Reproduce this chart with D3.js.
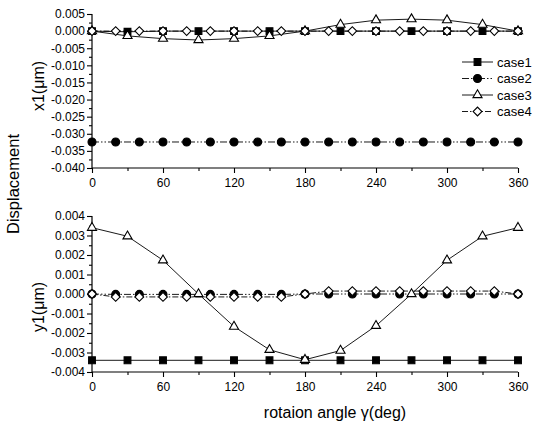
<!DOCTYPE html>
<html><head><meta charset="utf-8">
<script src="https://cdn.jsdelivr.net/npm/d3@7"></script>
<style>body{margin:0;background:#fff}svg{display:block}text{font-family:"Liberation Sans",Arial,sans-serif;fill:#000}</style>
</head><body>
<script>
// ---- data ----
const angles30 = [0,30,60,90,120,150,180,210,240,270,300,330,360];
const angles20 = [0,20,40,60,80,100,120,140,160,180,200,220,240,260,280,300,320,340,360];

// top panel x1 (µm)
const x1_case1 = [0,-0.0002,0,0,0,0,0,0,0,0,0,0,0];            // angles30
const x1_case2 = [-0.0324,-0.0324,-0.0324,-0.0324,-0.0324,-0.0324,-0.0324,-0.0324,-0.0324,-0.0324,-0.0324,-0.0324,-0.0324,-0.0324,-0.0324,-0.0324,-0.0324,-0.0324,-0.0324]; // angles20
const x1_case3 = [0,-0.0014,-0.0022,-0.0026,-0.0022,-0.0014,0,0.0019,0.0032,0.0035,0.0032,0.0019,0]; // angles30
const x1_case4 = [0,0,0,0,0,0,0,0,0,0,0,0,0,0,0,0,0,0,0];       // angles20

// bottom panel y1 (µm)
const y1_case1 = [-0.0034,-0.0034,-0.0034,-0.0034,-0.0034,-0.0034,-0.0034,-0.0034,-0.0034,-0.0034,-0.0034,-0.0034,-0.0034]; // angles30
const y1_case2 = [0,-0.00002,-0.00002,-0.00002,-0.00002,-0.00002,-0.00002,-0.00002,-0.00002,0,0,0,0,0,0,0,0,0,0]; // angles20
const y1_case3 = [0.0034,0.00296,0.00173,0,-0.00167,-0.00286,-0.00337,-0.0029,-0.00163,0,0.00173,0.00296,0.0034]; // angles30
const y1_case4 = [0,-0.00015,-0.00015,-0.00015,-0.00015,-0.00015,-0.00015,-0.00015,-0.00015,0,0.00015,0.00015,0.00015,0.00015,0.00015,0.00015,0.00015,0.00015,0]; // angles20

const xTicks = [0,60,120,180,240,300,360];
const xMinor = [30,90,150,210,270,330];
const topTicks = [0.005,0,-0.005,-0.010,-0.015,-0.020,-0.025,-0.030,-0.035,-0.040];
const topTickLabels = ["0.005","0.000","-0.005","-0.010","-0.015","-0.020","-0.025","-0.030","-0.035","-0.040"];
const botTicks = [0.004,0.003,0.002,0.001,0,-0.001,-0.002,-0.003,-0.004];
const botTickLabels = ["0.004","0.003","0.002","0.001","0.000","-0.001","-0.002","-0.003","-0.004"];
const seriesNames = ["case1","case2","case3","case4"];

// ---- drawing ----
const W=533,H=432;
const svg=d3.select("body").append("svg").attr("width",W).attr("height",H);
svg.append("rect").attr("width",W).attr("height",H).attr("fill","#fff");

const x=d3.scaleLinear().domain([0,360]).range([92,518]);
const yTop=d3.scaleLinear().domain([-0.040,0.005]).range([168,14]);
const yBot=d3.scaleLinear().domain([-0.004,0.004]).range([372,216]);

const styles=[
  {dash:null, sym:"square", fill:"#000"},
  {dash:"7,2,1.5,2,1.5,2", sym:"circle", fill:"#000"},
  {dash:null, sym:"triangle", fill:"#fff"},
  {dash:"6,2,1.5,2", sym:"diamond", fill:"#fff"}
];
function symPath(s){
  if(s==="square") return d3.symbol(d3.symbolSquare,46)();
  if(s==="circle") return d3.symbol(d3.symbolCircle,50)();
  if(s==="triangle") return d3.symbol(d3.symbolTriangle,36)();
  return d3.symbol(d3.symbolSquare,38)();
}
function marker(g,s,cx,cy){
  const p=g.append("path").attr("d",symPath(s.sym)).attr("fill",s.fill)
   .attr("stroke","#000").attr("stroke-width",1.1);
  p.attr("transform",`translate(${cx},${cy})`+(s.sym==="diamond"?" rotate(45)":""));
}

function panel(y, ticks, labels, series, yLabel, yLabelY){
  const g=svg.append("g");
  const [y0,y1]=y.range();
  g.append("line").attr("x1",x(0)).attr("x2",x(0)).attr("y1",y0).attr("y2",y1).attr("stroke","#000").attr("stroke-width",1.2);
  g.append("line").attr("x1",x(0)).attr("x2",x(360)).attr("y1",y0).attr("y2",y0).attr("stroke","#000").attr("stroke-width",1.2);
  const ay=d3.axisLeft(y).tickValues(ticks).tickSize(5).tickSizeOuter(0).tickFormat((d,i)=>labels[i]);
  const gy=g.append("g").attr("transform",`translate(${x(0)},0)`).call(ay);
  gy.select(".domain").remove();
  gy.selectAll("text").attr("font-size",12).attr("x",-7).style("font-family",'"Liberation Sans",Arial,sans-serif');
  const minors=[];
  for(let i=0;i<ticks.length-1;i++) minors.push((ticks[i]+ticks[i+1])/2);
  const aym=d3.axisLeft(y).tickValues(minors).tickSize(3).tickFormat("");
  const gym=g.append("g").attr("transform",`translate(${x(0)},0)`).call(aym);
  gym.select(".domain").remove();
  const ax=d3.axisBottom(x).tickValues(xTicks).tickSize(5).tickFormat(d=>String(d));
  const gx=g.append("g").attr("transform",`translate(0,${y0})`).call(ax);
  gx.select(".domain").remove();
  gx.selectAll("text").attr("font-size",12).attr("y",10).style("font-family",'"Liberation Sans",Arial,sans-serif');
  const axm=d3.axisBottom(x).tickValues(xMinor).tickSize(3).tickFormat("");
  const gxm=g.append("g").attr("transform",`translate(0,${y0})`).call(axm);
  gxm.select(".domain").remove();
  g.selectAll(".tick line").attr("stroke","#000").attr("stroke-width",1.1);
  const line=d3.line().x(d=>x(d[0])).y(d=>y(d[1]));
  series.forEach((sr,i)=>{
    const pts=sr.a.map((a,j)=>[a,sr.v[j]]);
    g.append("path").attr("d",line(pts)).attr("fill","none").attr("stroke","#000")
     .attr("stroke-width",0.9).attr("stroke-dasharray",styles[i].dash);
  });
  series.forEach((sr,i)=>{
    sr.a.forEach((a,j)=>marker(g,styles[i],x(a),y(sr.v[j])));
  });
  svg.append("text").attr("transform",`translate(44,${yLabelY}) rotate(-90)`)
    .attr("text-anchor","middle").attr("font-size",16).text(yLabel);
}

panel(yTop, topTicks, topTickLabels,
  [{a:angles30,v:x1_case1},{a:angles20,v:x1_case2},{a:angles30,v:x1_case3},{a:angles20,v:x1_case4}],
  "x1(\u03bcm)", 86);
panel(yBot, botTicks, botTickLabels,
  [{a:angles30,v:y1_case1},{a:angles20,v:y1_case2},{a:angles30,v:y1_case3},{a:angles20,v:y1_case4}],
  "y1(\u03bcm)", 307);

// legend
const lg=svg.append("g");
seriesNames.forEach((n,i)=>{
  const ly=62+i*16.5;
  lg.append("line").attr("x1",462).attr("x2",493).attr("y1",ly).attr("y2",ly)
    .attr("stroke","#000").attr("stroke-width",0.9).attr("stroke-dasharray",styles[i].dash);
  marker(lg,styles[i],477.5,ly);
  lg.append("text").attr("x",497).attr("y",ly+4.5).attr("font-size",13).text(n);
});

// titles
svg.append("text").attr("transform","translate(19,184) rotate(-90)").attr("text-anchor","middle")
  .attr("font-size",16.5).text("Displacement");
svg.append("text").attr("x",335).attr("y",418).attr("text-anchor","middle").attr("font-size",16)
  .text("rotaion angle \u03b3(deg)");
</script>
</body></html>
